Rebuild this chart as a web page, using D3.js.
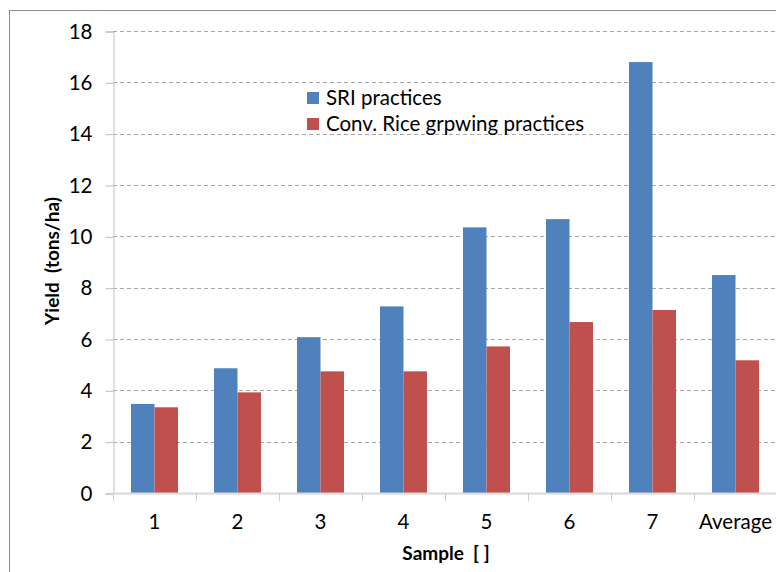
<!DOCTYPE html>
<html>
<head>
<meta charset="utf-8">
<script src="https://cdn.jsdelivr.net/npm/d3@7"></script>
<style>
  html, body { margin: 0; padding: 0; background: #fff; }
  svg { display: block; }
  text { font-family: Lato, "Open Sans", sans-serif; fill: #000; white-space: pre; }
</style>
</head>
<body>
<svg id="chart" width="776" height="572"></svg>
<script>
const categories = ["1", "2", "3", "4", "5", "6", "7", "Average"];
const seriesNames = ["SRI practices", "Conv. Rice grpwing practices"];
const sriValues = [3.47, 4.86, 6.07, 7.27, 10.35, 10.67, 16.79, 8.49];
const convValues = [3.34, 3.92, 4.74, 4.74, 5.71, 6.66, 7.13, 5.17];
const yTicks = [0, 2, 4, 6, 8, 10, 12, 14, 16, 18];
const colors = ["#4f81bd", "#c0504d"];

const svg = d3.select("#chart");

// outer chart border
svg.append("rect")
  .attr("x", 9.5).attr("y", 10.5)
  .attr("width", 800).attr("height", 600)
  .attr("fill", "none").attr("stroke", "#8c8c8c").attr("stroke-width", 1);

const mLeft = 113, mRight = 777, mTop = 31, mBottom = 493;

const x = d3.scaleBand().domain(categories).range([mLeft, mRight]).padding(0);
const bw = x.bandwidth();
const x1 = d3.scaleBand().domain(seriesNames).range([bw * 0.217, bw * 0.783]).padding(0);
const y = d3.scaleLinear().domain([0, 18]).range([mBottom, mTop]);

// gridlines
svg.append("g").selectAll("line").data(yTicks.filter(d => d > 0)).join("line")
  .attr("x1", mLeft).attr("x2", mRight)
  .attr("y1", d => Math.round(y(d)) + 0.5).attr("y2", d => Math.round(y(d)) + 0.5)
  .attr("stroke", "#a6a6a6").attr("stroke-width", 1)
  .attr("stroke-dasharray", "4,3");

// y axis
const yAxis = d3.axisLeft(y).tickValues(yTicks).tickSize(8).tickPadding(13).tickFormat(d3.format("d"));
const gy = svg.append("g").attr("transform", `translate(${mLeft + 0.5},0.5)`).call(yAxis);
gy.select(".domain").attr("stroke", "#bfbfbf");
gy.selectAll(".tick line").attr("stroke", "#bfbfbf");
gy.selectAll(".tick text").style("font-size", "20.5px").style("font-family", "Lato, sans-serif").attr("fill", "#000");

// bars
const data = categories.map((c, i) => ({ cat: c, vals: [sriValues[i], convValues[i]] }));
const groups = svg.append("g").selectAll("g").data(data).join("g")
  .attr("transform", d => `translate(${x(d.cat)},0)`);
groups.selectAll("rect").data(d => d.vals.map((v, j) => ({ v, s: seriesNames[j], j }))).join("rect")
  .attr("x", d => x1(d.s))
  .attr("width", x1.bandwidth())
  .attr("y", d => y(d.v))
  .attr("height", d => y(0) - y(d.v))
  .attr("fill", d => colors[d.j]);

// x axis
const xAxis = d3.axisBottom(x).tickSize(0).tickPadding(21);
const gx = svg.append("g").attr("transform", `translate(0,${mBottom})`).call(xAxis);
gx.select(".domain").attr("stroke", "#d9d9d9").attr("stroke-width", 2);
gx.selectAll(".tick text").style("font-size", "20.5px").style("font-family", "Lato, sans-serif").attr("fill", "#000");
// boundary ticks
svg.append("g").selectAll("line").data(categories).join("line")
  .attr("x1", d => Math.round(x(d)) + 0.5).attr("x2", d => Math.round(x(d)) + 0.5)
  .attr("y1", mBottom).attr("y2", mBottom + 8)
  .attr("stroke", "#d0d0d0").attr("stroke-width", 1);

// axis titles
svg.append("text")
  .attr("x", 446).attr("y", 560)
  .attr("text-anchor", "middle")
  .style("font-size", "19px").style("font-weight", "bold")
  .text("Sample  [ ]");
svg.append("text")
  .attr("transform", "translate(59,261) rotate(-90)")
  .attr("text-anchor", "middle")
  .style("font-size", "19px").style("font-weight", "bold")
  .text("Yield  (tons/ha)");

// legend
const legend = svg.append("g").selectAll("g").data(seriesNames).join("g")
  .attr("transform", (d, i) => `translate(307,${92 + i * 26})`);
legend.append("rect").attr("width", 12).attr("height", 12).attr("fill", (d, i) => colors[i]);
legend.append("text").attr("x", 19).attr("y", 12.5)
  .style("font-size", "20.5px")
  .text(d => d);
</script>
</body>
</html>
